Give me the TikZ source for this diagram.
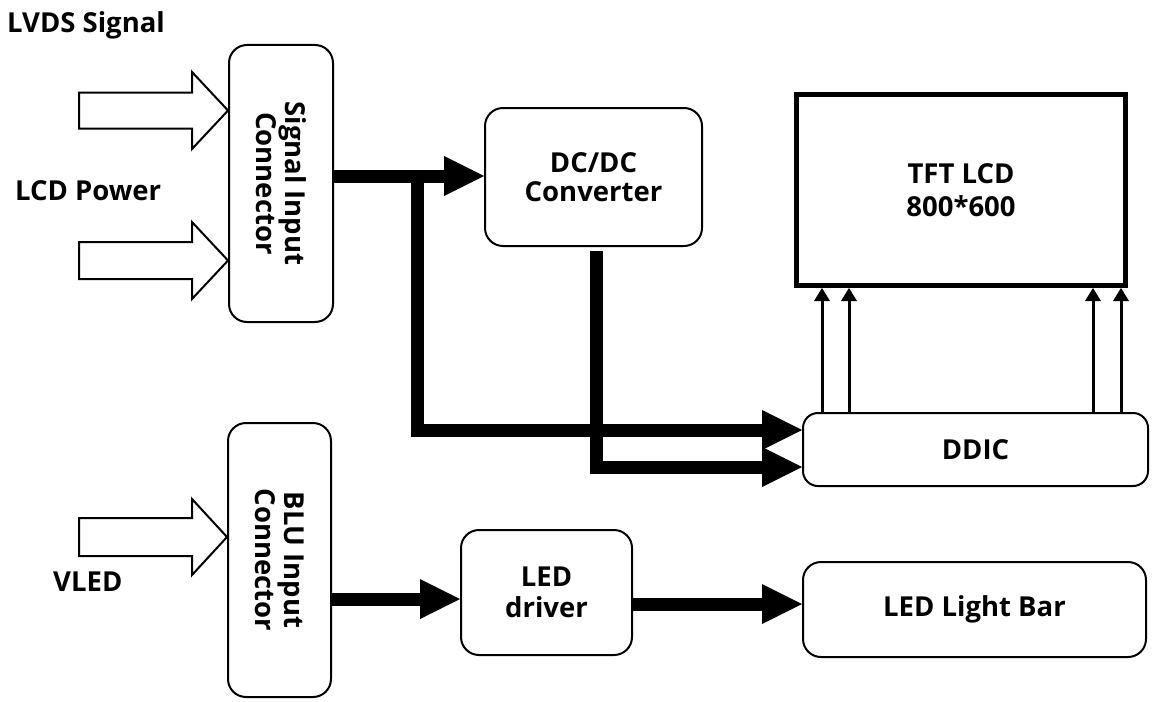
\documentclass[tikz,border=0pt]{standalone}
\usepackage{fontspec}
\setmainfont{Open Sans}
\usetikzlibrary{arrows.meta}
\newcommand\lblfont{\fontsize{27.5}{29}\selectfont\bfseries}
\tikzset{
  box/.style={draw, line width=2pt, rounded corners=18pt, inner sep=0pt, align=center, font=\lblfont},
  lbl/.style={inner sep=0pt, align=center, font=\lblfont},
  hollow/.style={draw, line width=2pt, fill=white, line join=miter},
  bigarrow/.style={line width=13pt, -{Triangle[length=40pt,width=40pt,line width=0pt]}},
  thinarrow/.style={line width=3pt, -{Triangle[length=13pt,width=16pt,line width=0pt]}},
}
\begin{document}
\begin{tikzpicture}[x=1pt,y=-1pt]
\useasboundingbox (0,0) rectangle (1153,701);
% boxes
\node[box, minimum width=104pt, minimum height=277pt] (sig) at (281,183.5) {};
\node[lbl, rotate=-90] (sigt) at (sig.center) {Signal Input\\Connector};
\node[box, minimum width=103pt, minimum height=274pt] (blu) at (279.5,560) {};
\node[lbl, rotate=-90] (blut) at (blu.center) {BLU Input\\Connector};
\node[box, minimum width=217pt, minimum height=138pt] (dcdc) at (593.5,177) {DC/DC\\Converter};
\node[box, rounded corners=0pt, line width=5pt, minimum width=329pt, minimum height=191pt,
      font={\fontsize{27.5}{33}\selectfont\bfseries}] (tft) at (961,190) {TFT LCD\\800*600};
\node[box, rounded corners=15pt, minimum width=345pt, minimum height=73pt] (ddic) at (975.5,449.5) {DDIC};
\node[box, minimum width=171pt, minimum height=125pt, font={\fontsize{27.5}{31}\selectfont\bfseries}] (drv) at (546.5,592.5) {LED\\driver};
\node[box, minimum width=343pt, minimum height=95pt] (bar) at (974.5,609.5) {LED Light Bar};
% free labels
\node[lbl, anchor=base west] (lvds) at (7,33) {LVDS Signal};
\node[lbl, anchor=base west] (lcdp) at (15,200) {LCD Power};
\node[lbl, anchor=base west] (vled) at (53,591) {VLED};
% hollow input arrows
\draw[hollow] (79,92.5) -- (192,92.5) -- (192,72) -- (sig.west |- 0,110.5) -- (192,149) -- (192,128.5) -- (79,128.5) -- cycle;
\draw[hollow] (79,242) -- (192,242) -- (192,222) -- (sig.west |- 0,260.5) -- (192,299) -- (192,279) -- (79,279) -- cycle;
\draw[hollow] (79,518) -- (192,518) -- (192,499) -- (blu.west |- 0,537) -- (192,575) -- (192,556) -- (79,556) -- cycle;
% thick connectors
\coordinate (j1) at (417,176);
\draw[bigarrow] (sig.east |- 0,176) -- (dcdc.west |- 0,176);
\draw[bigarrow] (j1) |- ([yshift=19.5pt]ddic.west);
\draw[bigarrow] ([xshift=2.5pt,yshift=-4pt]dcdc.south) |- ([yshift=-17.5pt]ddic.west);
\draw[bigarrow] (blu.east |- 0,599) -- (drv.west |- 0,599);
\draw[bigarrow] (drv.east |- 0,604) -- (bar.west |- 0,604);
% DDIC to TFT
\draw[thinarrow] ([xshift=-153.5pt]ddic.north) -- ([xshift=-153.5pt]ddic.north |- tft.south);
\draw[thinarrow] ([xshift=-126.5pt]ddic.north) -- ([xshift=-126.5pt]ddic.north |- tft.south);
\draw[thinarrow] ([xshift=117.5pt]ddic.north) -- ([xshift=117.5pt]ddic.north |- tft.south);
\draw[thinarrow] ([xshift=145.5pt]ddic.north) -- ([xshift=145.5pt]ddic.north |- tft.south);
\end{tikzpicture}
\end{document}
